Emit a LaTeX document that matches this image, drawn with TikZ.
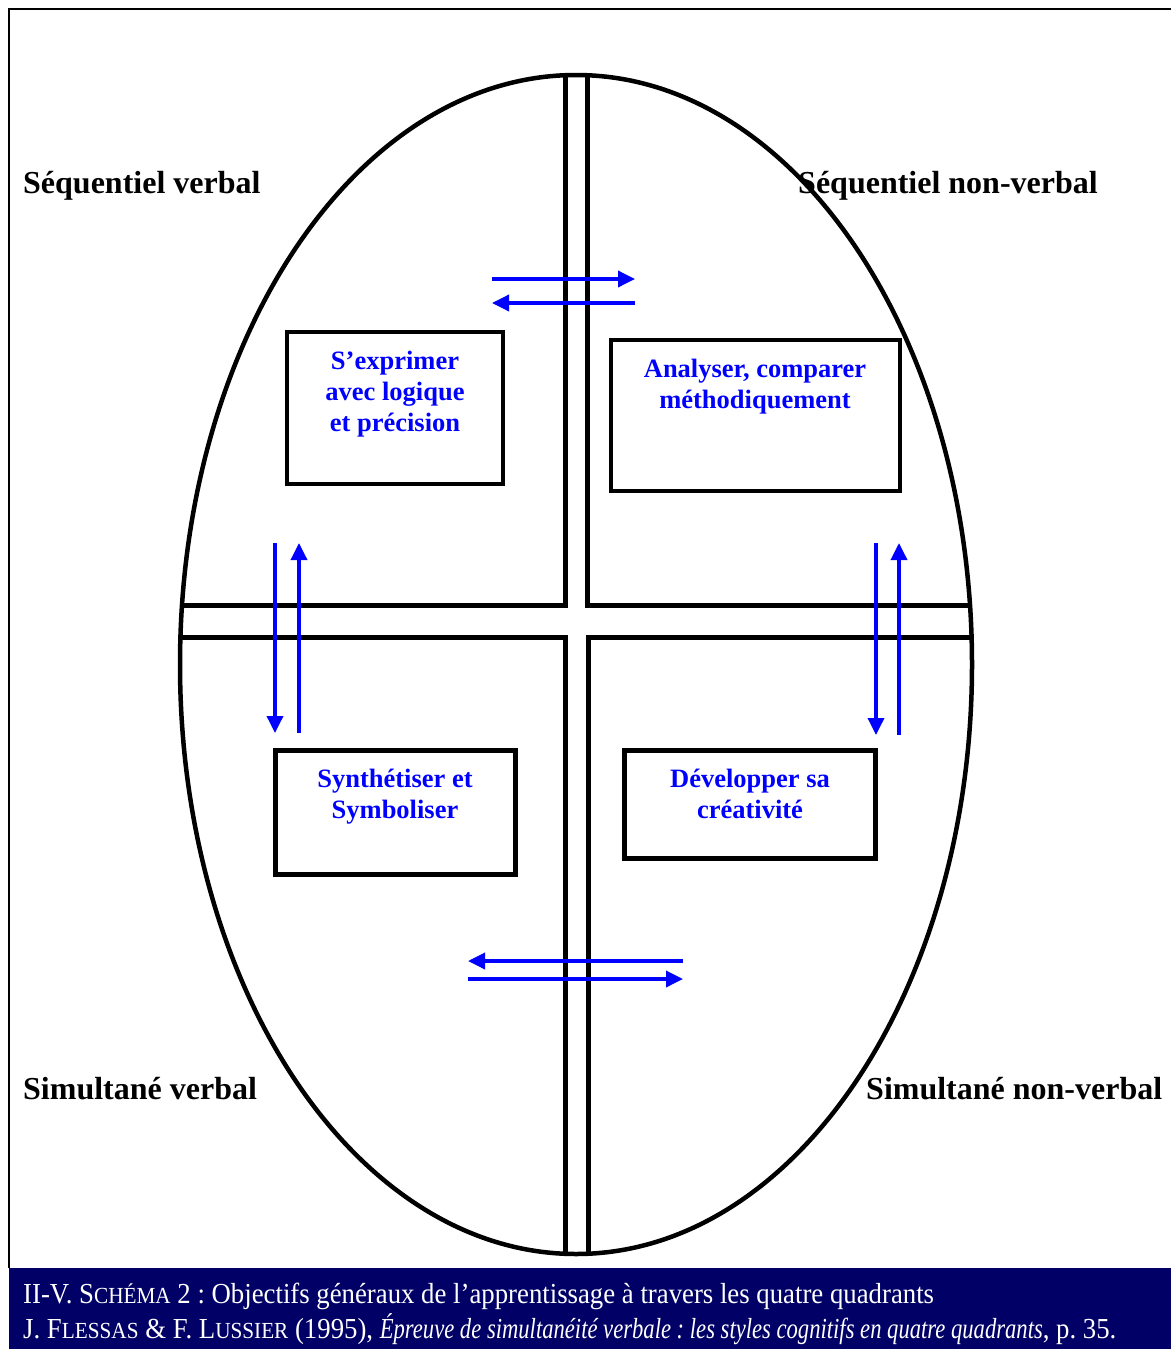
\documentclass[tikz,border=0pt]{standalone}
\usepackage{fontspec}
\setmainfont{Liberation Serif}
\newfontfamily\capfont{Liberation Serif}[FakeStretch=0.923]
\newfontfamily\capitfont{Liberation Serif Italic}[FakeStretch=0.78]
\usetikzlibrary{arrows.meta}
\frenchspacing

\definecolor{capnavy}{RGB}{0,0,102}
\definecolor{goalblue}{RGB}{0,0,255}
\newcommand{\smallcap}[1]{{\fontsize{23}{25}\selectfont #1}}

\begin{document}
\begin{tikzpicture}[x=1pt, y=-1pt, >={Triangle[length=17pt,width=16pt]}]
	\tikzset{
		quadlabel/.style={font=\fontsize{32}{36}\selectfont\bfseries, anchor=base west, inner sep=0pt},
		goalbox/.style={draw=black, line width=4.5pt, fill=white},
		goaltext/.style={font=\fontsize{26.5}{31}\selectfont\bfseries, text=goalblue, align=center, inner sep=0pt},
		flow/.style={->, draw=goalblue, line width=3.5pt},
		wall/.style={draw=black, line width=5pt},
		captext/.style={font=\capfont\fontsize{29}{32}\selectfont, text=white, anchor=base west, inner sep=0pt}
	}
	\useasboundingbox (0,0) rectangle (1170,1349);
	\fill[white] (0,0) rectangle (1170,1349);
	\draw[line width=2.5pt] (9,1268) -- (9,9) -- (1175,9);

	% quadrant names
	\node[quadlabel] (seqv)  at (23,193)  {Séquentiel verbal};
	\node[quadlabel] (seqnv) at (798,193) {Séquentiel non-verbal};
	\node[quadlabel] (simv)  at (23,1099) {Simultané verbal};
	\node[quadlabel] (simnv) at (866,1099) {Simultané non-verbal};

	% cross
	\begin{scope}
		\clip (576,664.5) ellipse [x radius=396, y radius=589.5];
		\draw[wall] (565.5,0) -- (565.5,605.5) -- (0,605.5);
		\draw[wall] (587.5,0) -- (587.5,605.5) -- (1170,605.5);
		\draw[wall] (565.5,1349) -- (565.5,637.5) -- (0,637.5);
		\draw[wall] (588,1349) -- (588,637.5) -- (1170,637.5);
	\end{scope}
	\draw[line width=4.5pt] (576,664.5) ellipse [x radius=396, y radius=589.5];

	% goals
	\node[goalbox, minimum width=216, minimum height=152] (exprbox) at (395,408) {};
	\node[goalbox, minimum width=289, minimum height=151] (analbox) at (755.5,415.5) {};
	\node[goalbox, minimum width=240, minimum height=124] (synthbox) at (395.5,812.5) {};
	\node[goalbox, minimum width=251, minimum height=108] (devbox) at (750,804.5) {};
	\node[goaltext] (expr)  at (395,394)   {S’exprimer\\avec logique\\et précision};
	\node[goaltext] (anal)  at (755,387)   {Analyser, comparer\\méthodiquement};
	\node[goaltext] (synth) at (395,797)   {Synthétiser et\\Symboliser};
	\node[goaltext] (dev)   at (750,794)   {Développer sa\\créativité};

	% arrows
	\coordinate (tl) at (492,279);  \coordinate (tr) at (635,279);
	\coordinate (tl2) at (492,303); \coordinate (tr2) at (635,303);
	\coordinate (lt) at (275,543);  \coordinate (lb) at (275,733);
	\coordinate (lt2) at (299,543); \coordinate (lb2) at (299,733);
	\coordinate (rt) at (876,543);  \coordinate (rb) at (876,735);
	\coordinate (rt2) at (899,543); \coordinate (rb2) at (899,735);
	\coordinate (bl) at (468,961);  \coordinate (br) at (683,961);
	\coordinate (bl2) at (468,979); \coordinate (br2) at (683,979);
	\draw[flow] (tl) -- (tr);
	\draw[flow] (tr2) -- (tl2);
	\draw[flow] (lt) -- (lb);
	\draw[flow] (lb2) -- (lt2);
	\draw[flow] (rt) -- (rb);
	\draw[flow] (rb2) -- (rt2);
	\draw[flow] (br) -- (bl);
	\draw[flow] (bl2) -- (br2);

	% caption
	\fill[capnavy] (9,1268) rectangle (1175,1352);
	\node[captext] (capone) at (23,1303) {II-V. S\smallcap{CHÉMA} 2 : Objectifs généraux de l’apprentissage à travers les quatre quadrants};
	\node[captext] (captwo) at (23,1338) {J. F\smallcap{LESSAS} \& F. L\smallcap{USSIER} (1995), {\capitfont Épreuve de simultanéité verbale : les styles cognitifs en quatre quadrants}, p. 35.};
\end{tikzpicture}
\end{document}
